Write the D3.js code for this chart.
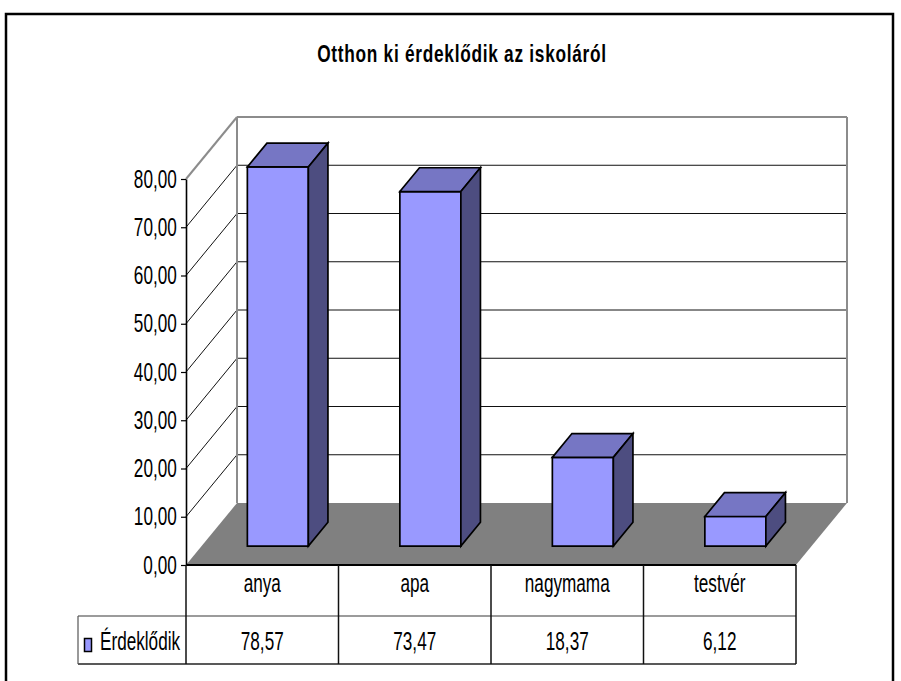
<!DOCTYPE html>
<html>
<head>
<meta charset="utf-8">
<script src="https://cdn.jsdelivr.net/npm/d3@7"></script>
<style>
  html, body { margin: 0; padding: 0; background: #fff; }
  svg { display: block; }
  text { font-family: "Liberation Sans", Arial, sans-serif; fill: #000; }
</style>
</head>
<body>
<svg id="chart" width="901" height="681"></svg>
<script>
// ---- data ----
const chartTitle = "Otthon ki érdeklődik az iskoláról";
const seriesName = "Érdeklődik";
const categories = ["anya", "apa", "nagymama", "testvér"];
const values = [78.57, 73.47, 18.37, 6.12];
const valueLabels = ["78,57", "73,47", "18,37", "6,12"];
const yTicks = [0, 10, 20, 30, 40, 50, 60, 70, 80];

// ---- layout ----
const svg = d3.select("#chart");
const FX0 = 186, FX1 = 796;          // front plane x extent
const DX = 51, DY = -62;             // depth offset
const Z0 = 0.306, Z1 = 0.69;         // bar depth range
const SX = 0.66;                     // horizontal text squeeze
const FS = 26;                       // font size

const x = d3.scaleBand().domain(categories).range([FX0, FX1]);
const xb = d3.scaleBand().domain(categories).range([FX0, FX1]).paddingInner(0.6).paddingOuter(0.3);
const y = d3.scaleLinear().domain([0, 80]).range([565, 179]);
const P = (xf, v, z) => [xf + z * DX, y(v) + z * DY];
const pts = arr => arr.map(p => p.join(",")).join(" ");

function sText(g, tx, ty, str, anchor, opts = {}) {
  return g.append("text")
    .attr("transform", `translate(${tx},${ty}) scale(${opts.sx || SX},1)`)
    .attr("text-anchor", anchor)
    .attr("font-size", opts.fs || FS)
    .attr("font-weight", opts.bold ? "bold" : "normal")
    .attr("letter-spacing", opts.ls || 0)
    .text(str);
}

// outer frame
svg.append("rect").attr("x", 6).attr("y", 14).attr("width", 887).attr("height", 720)
  .attr("fill", "none").attr("stroke", "#000").attr("stroke-width", 2.5);

// title
sText(svg, 462, 62, chartTitle, "middle", { bold: true, fs: 24, sx: 0.72, ls: 1 });

// floor
svg.append("polygon")
  .attr("points", pts([P(FX0, 0, 0), P(FX1, 0, 0), P(FX1, 0, 1), P(FX0, 0, 1)]))
  .attr("fill", "#808080");

// back wall gridlines
const grid = svg.append("g");
yTicks.filter(v => v > 0 && v < 80).forEach(v => {
  const a = P(FX0, v, 1), b = P(FX1, v, 1);
  grid.append("line").attr("x1", a[0]).attr("y1", a[1]).attr("x2", b[0]).attr("y2", b[1])
    .attr("stroke", "#111").attr("stroke-width", 1);
  const c = P(FX0, v, 0);
  grid.append("line").attr("x1", c[0]).attr("y1", c[1]).attr("x2", a[0]).attr("y2", a[1])
    .attr("stroke", "#111").attr("stroke-width", 1);
});
// wall edges (gray)
const wallEdges = [
  [P(FX0, 0, 1), P(FX0, 80, 1)],
  [P(FX0, 80, 1), P(FX1, 80, 1)],
  [P(FX1, 80, 1), P(FX1, 0, 1)],
  [P(FX0, 80, 0), P(FX0, 80, 1)]
];
wallEdges.forEach(([a, b]) => {
  grid.append("line").attr("x1", a[0]).attr("y1", a[1]).attr("x2", b[0]).attr("y2", b[1])
    .attr("stroke", "#8c8c8c").attr("stroke-width", 2);
});

// bars
const bars = svg.append("g").attr("stroke", "#000").attr("stroke-width", 1.7).attr("stroke-linejoin", "miter");
categories.forEach((c, i) => {
  const v = values[i];
  const x0 = xb(c), x1 = x0 + xb.bandwidth();
  bars.append("polygon").attr("fill", "#9999FF")
    .attr("points", pts([P(x0, v, Z0), P(x1, v, Z0), P(x1, 0, Z0), P(x0, 0, Z0)]));
  bars.append("polygon").attr("fill", "#7676C4")
    .attr("points", pts([P(x0, v, Z0), P(x0, v, Z1), P(x1, v, Z1), P(x1, v, Z0)]));
  bars.append("polygon").attr("fill", "#4D4D80")
    .attr("points", pts([P(x1, v, Z0), P(x1, v, Z1), P(x1, 0, Z1), P(x1, 0, Z0)]));
});

// y axis
const axis = svg.append("g").attr("transform", `translate(${FX0},0)`)
  .call(d3.axisLeft(y).tickValues(yTicks).tickSize(5).tickSizeOuter(0)
    .tickFormat(d => d.toFixed(2).replace(".", ",")));
axis.select(".domain").attr("stroke", "#000").attr("stroke-width", 1.6);
axis.selectAll(".tick line").attr("stroke", "#000").attr("stroke-width", 1.2);
axis.selectAll(".tick text")
  .attr("font-family", "Liberation Sans, Arial, sans-serif")
  .attr("font-size", FS)
  .attr("fill", "#000")
  .attr("x", -14)
  .attr("dy", "0.31em")
  .attr("transform", `scale(${SX},1)`);

// data table
const tbl = svg.append("g");
const rowTop = 565, rowMid = 616, rowBot = 664, legX = 78;
// horizontal lines
tbl.append("line").attr("x1", FX0).attr("x2", FX1).attr("y1", rowTop).attr("y2", rowTop)
  .attr("stroke", "#000").attr("stroke-width", 2);
tbl.append("line").attr("x1", legX).attr("x2", FX1).attr("y1", rowMid).attr("y2", rowMid)
  .attr("stroke", "#7a7a7a").attr("stroke-width", 1.5);
tbl.append("line").attr("x1", legX).attr("x2", FX1).attr("y1", rowBot).attr("y2", rowBot)
  .attr("stroke", "#222").attr("stroke-width", 1.5);
tbl.append("line").attr("x1", legX).attr("x2", legX).attr("y1", rowMid).attr("y2", rowBot)
  .attr("stroke", "#555").attr("stroke-width", 1.2);
// vertical column lines
const colEdges = [FX0].concat(categories.map(c => x(c) + x.bandwidth()));
colEdges.forEach(cx => {
  tbl.append("line").attr("x1", cx).attr("x2", cx).attr("y1", rowTop).attr("y2", rowBot)
    .attr("stroke", "#111").attr("stroke-width", 1.5);
});
// category labels and values
categories.forEach((c, i) => {
  const cx = x(c) + x.bandwidth() / 2;
  sText(tbl, cx, 592, c, "middle");
  sText(tbl, cx, 650, valueLabels[i], "middle");
});
// legend key + series name
tbl.append("rect").attr("x", 84.5).attr("y", 638.5).attr("width", 7).attr("height", 13)
  .attr("fill", "#9999FF").attr("stroke", "#000").attr("stroke-width", 1.5);
sText(tbl, 100, 650, seriesName, "start");
</script>
</body>
</html>
